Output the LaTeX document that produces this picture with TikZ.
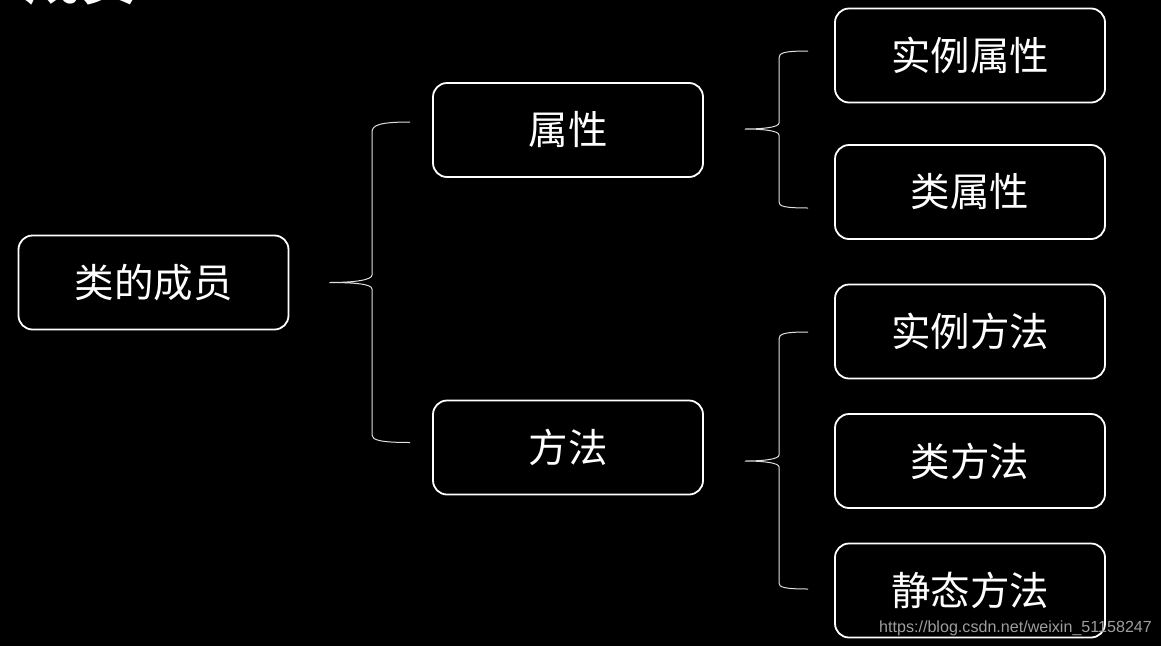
\documentclass[tikz,border=0pt]{standalone}
\usepackage{fontspec}
\setmainfont{Liberation Sans}
\newfontfamily\cjk{Noto Sans CJK SC}
\newfontfamily\cjkb{Noto Sans CJK SC Bold}
\usetikzlibrary{calc}
\begin{document}
\begin{tikzpicture}[x=1pt,y=-1pt,
  box/.style={draw=white,line width=1.8pt,rounded corners=14pt,minimum width=270pt,minimum height=94pt,text=white,font=\cjk\fontsize{39.5}{42}\selectfont,inner sep=0pt},
  brace/.style={draw=white!88!black,line width=1pt}]
\fill[black] (0,0) rectangle (1161,646);
\useasboundingbox (0,0) rectangle (1161,646);
\node[text=white,font=\cjkb\fontsize{56}{60}\selectfont,anchor=base west,inner sep=0pt] (title) at (24,-1) {成员};
\node[box] (m) at (153.5,282.5) {类的成员};
\node[box] (p) at (568,130) {属性};
\node[box] (f) at (568,447.5) {方法};
\node[box] (p1) at (970,55.5) {实例属性};
\node[box] (p2) at (970,192) {类属性};
\node[box] (f1) at (970,331.5) {实例方法};
\node[box] (f2) at (970,461) {类方法};
\node[box] (f3) at (970,590.5) {静态方法};
% brace 1
\coordinate (t1) at ($(m.east)+(40,0)$);
\coordinate (a1) at ($(p.west)+(-22,-8)$);
\coordinate (b1) at ($(f.west)+(-22,-5)$);
\path[brace] (a1) .. controls ($(a1)+(-30,0)$) and (372,125) .. (372,132) -- (372,{282-7}) .. controls (372,280) and ($(t1)+(25,0)$) .. (t1)
  .. controls ($(t1)+(25,0)$) and (372,284) .. (372,{282+7}) -- (372,{443-8}) .. controls (372,440) and ($(b1)+(-30,0)$) .. (b1);
% brace 2
\coordinate (t2) at ($(p.east)+(41,-1)$);
\coordinate (a2) at ($(p1.west)+(-26,-4.5)$);
\coordinate (b2) at ($(p2.west)+(-26,16)$);
\path[brace] (a2) .. controls ($(a2)+(-25,0)$) and (779,53) .. (779,58) -- (779,{129-6}) .. controls (779,127) and ($(t2)+(20,0)$) .. (t2)
  .. controls ($(t2)+(20,0)$) and (779,131) .. (779,{129+6}) -- (779,{208-6}) .. controls (779,206) and ($(b2)+(-25,0)$) .. (b2);
% brace 3
\coordinate (t3) at ($(f.east)+(41,13.5)$);
\coordinate (a3) at ($(f1.west)+(-26,0.5)$);
\coordinate (b3) at ($(f3.west)+(-26,-1.5)$);
\path[brace] (a3) .. controls ($(a3)+(-25,0)$) and (779,334) .. (779,339) -- (779,{461-6}) .. controls (779,459) and ($(t3)+(20,0)$) .. (t3)
  .. controls ($(t3)+(20,0)$) and (779,463) .. (779,{461+6}) -- (779,{589-6}) .. controls (779,587) and ($(b3)+(-25,0)$) .. (b3);
\node[text=white!62!black,font=\fontsize{16.1}{18}\selectfont,anchor=base west,inner sep=0pt] (wm) at (879,632) {https://blog.csdn.net/weixin\_51158247};
\end{tikzpicture}
\end{document}
